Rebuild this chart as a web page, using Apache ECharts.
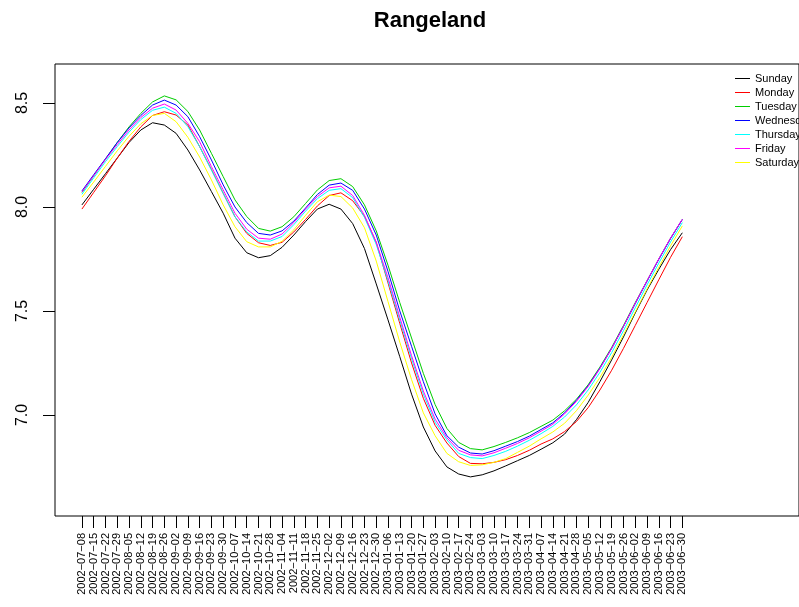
<!DOCTYPE html>
<html>
<head>
<meta charset="utf-8">
<script src="https://cdn.jsdelivr.net/npm/echarts@6/dist/echarts.min.js"></script>
<style>
html,body{margin:0;padding:0;background:#fff;}
#chart{width:799px;height:607px;}
</style>
</head>
<body>
<div id="chart"></div>
<script>
var dates = ["2002-07-08","2002-07-15","2002-07-22","2002-07-29","2002-08-05","2002-08-12","2002-08-19","2002-08-26","2002-09-02","2002-09-09","2002-09-16","2002-09-23","2002-09-30","2002-10-07","2002-10-14","2002-10-21","2002-10-28","2002-11-04","2002-11-11","2002-11-18","2002-11-25","2002-12-02","2002-12-09","2002-12-16","2002-12-23","2002-12-30","2003-01-06","2003-01-13","2003-01-20","2003-01-27","2003-02-03","2003-02-10","2003-02-17","2003-02-24","2003-03-03","2003-03-10","2003-03-17","2003-03-24","2003-03-31","2003-04-07","2003-04-14","2003-04-21","2003-04-28","2003-05-05","2003-05-12","2003-05-19","2003-05-26","2003-06-02","2003-06-09","2003-06-16","2003-06-23","2003-06-30"];

var sunday = [8.01,8.085,8.16,8.235,8.31,8.37,8.405,8.394,8.354,8.274,
  8.178,8.074,7.97,7.85,7.78,7.756,7.766,7.806,7.865,7.93,
  7.99,8.013,7.99,7.92,7.80,7.63,7.457,7.28,7.10,6.942,
  6.827,6.75,6.716,6.702,6.712,6.731,6.755,6.78,6.805,6.835,
  6.866,6.908,6.977,7.06,7.16,7.265,7.375,7.49,7.60,7.70,
  7.795,7.876];
var monday = [7.99,8.07,8.15,8.235,8.315,8.385,8.44,8.458,8.442,8.394,
  8.29,8.18,8.066,7.953,7.873,7.828,7.815,7.83,7.88,7.94,
  8.005,8.055,8.068,8.03,7.955,7.83,7.635,7.44,7.25,7.08,
  6.95,6.865,6.80,6.767,6.765,6.772,6.785,6.805,6.83,6.86,
  6.885,6.92,6.968,7.035,7.12,7.215,7.32,7.43,7.54,7.65,
  7.758,7.857];
var tuesday = [8.07,8.15,8.23,8.31,8.385,8.45,8.505,8.534,8.515,8.459,
  8.37,8.258,8.146,8.034,7.954,7.897,7.884,7.905,7.953,8.017,
  8.082,8.127,8.136,8.098,8.01,7.885,7.72,7.54,7.37,7.20,
  7.05,6.935,6.868,6.838,6.832,6.848,6.868,6.89,6.915,6.945,
  6.975,7.02,7.075,7.145,7.23,7.325,7.43,7.54,7.645,7.75,
  7.85,7.94];
var wednesday = [8.077,8.155,8.232,8.31,8.38,8.44,8.49,8.514,8.49,8.434,
  8.338,8.226,8.106,8.0,7.925,7.873,7.865,7.885,7.932,7.995,
  8.06,8.105,8.115,8.08,7.99,7.865,7.69,7.50,7.33,7.16,
  7.005,6.90,6.845,6.817,6.812,6.828,6.85,6.872,6.898,6.93,
  6.962,7.01,7.07,7.14,7.225,7.32,7.425,7.535,7.643,7.748,
  7.848,7.94];
var thursday = [8.061,8.14,8.218,8.29,8.36,8.42,8.465,8.48,8.45,8.386,
  8.29,8.178,8.066,7.953,7.88,7.836,7.836,7.858,7.915,7.98,
  8.04,8.08,8.088,8.045,7.95,7.82,7.645,7.455,7.27,7.10,
  6.965,6.88,6.815,6.795,6.79,6.805,6.825,6.85,6.878,6.91,
  6.945,6.99,7.048,7.12,7.205,7.30,7.405,7.515,7.625,7.73,
  7.832,7.925];
var friday = [8.072,8.15,8.228,8.30,8.37,8.43,8.475,8.495,8.466,8.402,
  8.314,8.194,8.082,7.97,7.893,7.85,7.845,7.87,7.925,7.99,
  8.05,8.092,8.10,8.055,7.96,7.83,7.66,7.47,7.285,7.115,
  6.98,6.89,6.83,6.808,6.803,6.818,6.84,6.863,6.89,6.922,
  6.955,7.005,7.065,7.137,7.223,7.32,7.425,7.537,7.645,7.75,
  7.85,7.941];
var saturday = [8.047,8.12,8.195,8.27,8.34,8.40,8.44,8.45,8.41,8.335,
  8.24,8.13,8.01,7.905,7.833,7.808,7.808,7.835,7.89,7.96,
  8.025,8.057,8.05,7.995,7.90,7.74,7.545,7.35,7.17,7.01,
  6.90,6.815,6.775,6.757,6.76,6.772,6.79,6.82,6.85,6.885,
  6.918,6.96,7.02,7.095,7.18,7.277,7.385,7.495,7.605,7.71,
  7.813,7.909];

var seriesNames = ["Sunday","Monday","Tuesday","Wednesday","Thursday","Friday","Saturday"];
var seriesColors = ["#000000","#FF0000","#00CD00","#0000FF","#00FFFF","#FF00FF","#FFFF00"];
var seriesValues = [sunday, monday, tuesday, wednesday, thursday, friday, saturday];
var yTicks = [7.0, 7.5, 8.0, 8.5];

var xIdx = dates.map(function(d, i){ return i; });
var FONT = "Liberation Sans, Arial, Helvetica, sans-serif";

var chart = echarts.init(document.getElementById('chart'), null, {renderer: 'canvas'});
chart.setOption({
  backgroundColor: '#ffffff',
  animation: false,
  title: {
    text: 'Rangeland',
    left: 425,
    top: 5,
    textAlign: 'center',
    textStyle: {fontFamily: FONT, fontSize: 22, fontWeight: 'bold', color: '#000'}
  },
  legend: {
    orient: 'vertical',
    left: 735,
    top: 71.5,
    padding: 0,
    itemGap: 0,
    itemWidth: 15,
    itemHeight: 1,
    icon: 'rect',
    textStyle: {fontFamily: FONT, fontSize: 11, color: '#000', lineHeight: 14, height: 14},
    data: seriesNames.map(function(n, k){ return {name: n, itemStyle: {color: seriesColors[k]}}; })
  },
  grid: {
    left: 55, top: 64, width: 746, height: 452,
    show: true, borderColor: '#000', borderWidth: 1, containLabel: false
  },
  xAxis: {
    type: 'value',
    min: -2.287, max: 60.91,
    axisLine: {show: false, onZero: false},
    splitLine: {show: false},
    axisTick: {show: true, interval: 0, length: 12, customValues: xIdx, lineStyle: {color: '#000'}},
    axisLabel: {
      customValues: xIdx,
      interval: 0, hideOverlap: false,
      rotate: 90, margin: 17,
      fontFamily: FONT, fontSize: 11, lineHeight: 10, color: '#000',
      formatter: function(v){ var s = dates[Math.round(v)] || ''; return s.replace(/-/g, '\u2212'); }
    }
  },
  yAxis: {
    type: 'value',
    min: 6.514, max: 8.6875,
    axisLine: {show: false, onZero: false},
    splitLine: {show: false},
    axisTick: {show: true, length: 12, customValues: yTicks, lineStyle: {color: '#000'}},
    axisLabel: {
      customValues: yTicks,
      rotate: 90, margin: 24,
      fontFamily: FONT, fontSize: 16, color: '#000',
      formatter: function(v){ return v.toFixed(1); }
    }
  },
  series: seriesNames.map(function(name, k){
    return {
      name: name,
      type: 'line',
      showSymbol: false,
      symbol: 'none',
      lineStyle: {color: seriesColors[k], width: 1},
      itemStyle: {color: seriesColors[k]},
      data: seriesValues[k].map(function(v, i){ return [xIdx[i], v]; })
    };
  })
});
</script>
</body>
</html>
